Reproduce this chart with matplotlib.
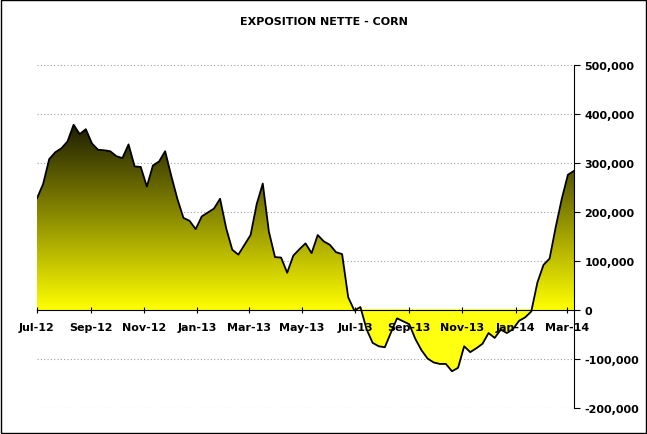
import numpy as np
import matplotlib
matplotlib.use("Agg")
import matplotlib.pyplot as plt
import matplotlib.dates as mdates
import pandas as pd
from matplotlib.colors import LinearSegmentedColormap
from matplotlib.ticker import FuncFormatter, MultipleLocator
from matplotlib.path import Path

values_k = [228, 257, 308, 322, 330, 344, 378, 359, 369, 340, 327, 326, 324, 314, 310, 338,
            293, 292, 252, 295, 303, 324, 274, 227, 188, 182, 165, 191, 199, 207, 227, 167,
            123, 113, 133, 153, 216, 258, 160, 108, 107, 76, 111, 124, 136, 116, 153, 140,
            133, 118, 114, 26, -1, 6, -39, -67, -74, -76, -46, -17, -23, -29, -59, -82,
            -99, -107, -110, -110, -125, -118, -74, -86, -78, -69, -47, -57, -40, -47, -39,
            -22, -15, -3, 56, 92, 105, 169, 227, 276, 284]
values = np.array(values_k) * 1000.0
dates = pd.date_range("2012-07-01", periods=len(values), freq="7D")
x = mdates.date2num(dates)
tick_dates = pd.date_range("2012-07-01", "2014-03-01", freq="2MS")
title = "EXPOSITION NETTE - CORN"

fig = plt.figure(figsize=(6.47, 4.35), dpi=100)
ax = fig.add_axes([37/647, 1-409/435, (574-37)/647, (409-66)/435])
ax.set_xlim(x[0], x[-1])
ax.set_ylim(-200000, 500000)

cmap = LinearSegmentedColormap.from_list("g", ["#ffff00", "#8c8c00", "#1c1c00"])
grad = np.linspace(0, 1, 256).reshape(-1, 1)
im = ax.imshow(grad, cmap=cmap, aspect="auto", extent=[x[0], x[-1], 0, 380000],
               origin="lower", zorder=1)
poly = ax.fill_between(x, values, 0, where=values >= 0, interpolate=True, color="none")
paths = poly.get_paths()
verts = np.concatenate([p.vertices for p in paths]); codes = np.concatenate([p.codes for p in paths])
im.set_clip_path(Path(verts, codes), ax.transData)
ax.fill_between(x, values, 0, where=values <= 0, interpolate=True, color="#ffff10", zorder=1)
ax.plot(x, values, color="black", lw=1.3, zorder=3)

for yv in range(-200000, 500001, 100000):
    if yv != 0:
        ax.axhline(yv, color="#a0a0a0", lw=0.8, ls=(0, (1, 2)), zorder=0)

ax.spines["left"].set_visible(False)
ax.spines["top"].set_visible(False)
ax.spines["bottom"].set_position(("data", 0))
ax.spines["bottom"].set_zorder(4)
ax.yaxis.tick_right()
ax.yaxis.set_major_locator(MultipleLocator(100000))
ax.yaxis.set_major_formatter(FuncFormatter(lambda v, p: f"{int(v):,}"))
ax.set_xticks(mdates.date2num(tick_dates))
ax.set_xticklabels([d.strftime("%b-%y") for d in tick_dates])
ax.tick_params(axis="x", direction="inout", length=5, pad=6)
ax.tick_params(axis="y", direction="out", length=4)
for lab in ax.get_xticklabels() + ax.get_yticklabels():
    lab.set_fontweight("bold"); lab.set_fontsize(8)
fig.text(0.5, 1-22/435, title, ha="center", va="center", fontsize=8, fontweight="bold")
fig.patches.append(plt.Rectangle((0.002, 0.002), 0.996, 0.996, transform=fig.transFigure,
                                 fill=False, ec="black", lw=1))
fig.savefig("out.png", dpi=100)
